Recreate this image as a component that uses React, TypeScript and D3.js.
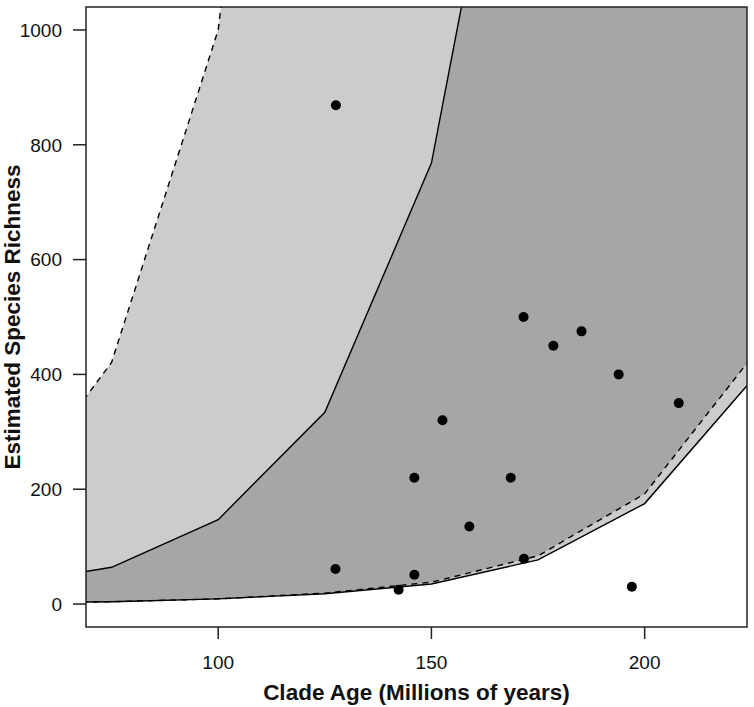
import React from 'react';
import * as d3 from 'd3';

// model envelopes, evaluated on a grid of clade ages
const ageGrid = [50, 75, 100, 125, 150, 175, 200, 225];
const upperDashed = [171, 421, 1000, 2600, 6000, 12000, 24000, 48000];
const lowerDashed = [2, 4, 9, 19, 38, 84, 192, 429];
const upperSolid = [33, 64, 147, 334, 768, 1735, 3900, 8800];
const lowerSolid = [2, 4, 9, 18, 35, 77, 175, 389];

// observed clades
const cladeAge = [127.6, 127.5, 142.3, 146, 146, 152.6, 158.9, 168.6, 171.6, 171.7, 178.6, 185.2, 193.9, 197, 208];
const richness = [869, 61, 25, 51, 220, 320, 135, 220, 500, 79, 450, 475, 400, 30, 350];

const xTicks = [100, 150, 200];
const yTicks = [0, 200, 400, 600, 800, 1000];

const W = 754;
const H = 707;
const plot = { left: 86, right: 747, top: 7, bottom: 627 };
const font = '"Liberation Sans", Arial, Helvetica, sans-serif';

export default function App() {
  const x = d3.scaleLinear().domain([69, 224]).range([plot.left, plot.right]);
  const y = d3.scaleLinear().domain([-40, 1040]).range([plot.bottom, plot.top]);

  const band = (hi: number[], lo: number[]) =>
    d3.area<number>()
      .x((d) => x(d))
      .y0((_, i) => y(lo[i]))
      .y1((_, i) => y(hi[i]))(ageGrid) || '';

  const line = (vals: number[]) =>
    d3.line<number>()
      .x((d) => x(d))
      .y((_, i) => y(vals[i]))(ageGrid) || '';

  const midX = (plot.left + plot.right) / 2;
  const midY = (plot.top + plot.bottom) / 2;

  return (
    <svg width={W} height={H} style={{ position: 'absolute', left: 0, top: 0, background: '#fff' }} fontFamily={font}>
      <defs>
        <clipPath id="plotClip">
          <rect x={plot.left} y={plot.top} width={plot.right - plot.left} height={plot.bottom - plot.top} />
        </clipPath>
      </defs>

      <g clipPath="url(#plotClip)">
        <path d={band(upperDashed, lowerSolid)} fill="#cccccc" />
        <path d={band(upperSolid, lowerDashed)} fill="#a6a6a6" />
        <path d={line(upperDashed)} fill="none" stroke="#000" strokeWidth={1.4} strokeDasharray="6,5" />
        <path d={line(lowerDashed)} fill="none" stroke="#000" strokeWidth={1.4} strokeDasharray="6,5" />
        <path d={line(upperSolid)} fill="none" stroke="#000" strokeWidth={1.4} />
        <path d={line(lowerSolid)} fill="none" stroke="#000" strokeWidth={1.4} />
        {cladeAge.map((a, i) => (
          <circle key={i} cx={x(a)} cy={y(richness[i])} r={5} fill="#000" />
        ))}
      </g>

      <rect x={plot.left} y={plot.top} width={plot.right - plot.left} height={plot.bottom - plot.top}
        fill="none" stroke="#222" strokeWidth={1.5} />

      {xTicks.map((t) => (
        <g key={t}>
          <line x1={x(t)} x2={x(t)} y1={plot.bottom} y2={plot.bottom + 12} stroke="#222" strokeWidth={1.5} />
          <text x={x(t)} y={669} textAnchor="middle" fontSize={19} fill="#111">{t}</text>
        </g>
      ))}
      {yTicks.map((t) => (
        <g key={t}>
          <line x1={plot.left - 13} x2={plot.left} y1={y(t)} y2={y(t)} stroke="#222" strokeWidth={1.5} />
          <text x={62} y={y(t)} dy="0.36em" textAnchor="end" fontSize={19} fill="#111">{t}</text>
        </g>
      ))}

      <text x={midX} y={700} textAnchor="middle" fontSize={22.5} fontWeight="bold" fill="#111">
        Clade Age (Millions of years)
      </text>
      <text transform={`translate(20,${midY}) rotate(-90)`} textAnchor="middle" fontSize={22.5} fontWeight="bold" fill="#111">
        Estimated Species Richness
      </text>
    </svg>
  );
}
